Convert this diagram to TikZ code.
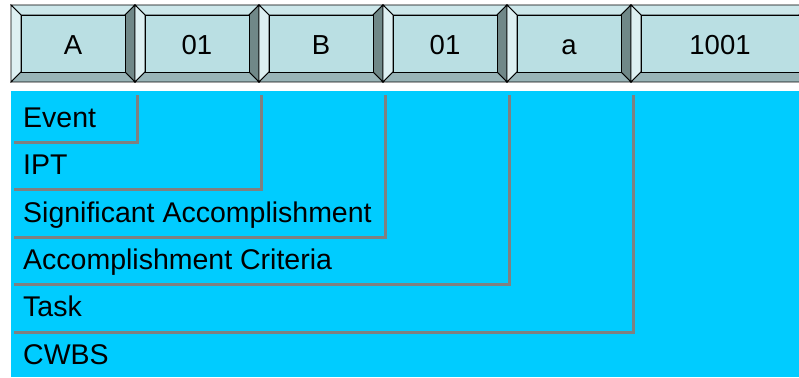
\documentclass[tikz,border=0pt]{standalone}
\usepackage{fontspec}
\setmainfont{Liberation Sans}
\usetikzlibrary{positioning}
\definecolor{facecolor}{RGB}{186,223,227}
\definecolor{topbevel}{RGB}{204,231,234}
\definecolor{leftbevel}{RGB}{221,240,242}
\definecolor{rightbevel}{RGB}{112,136,136}
\definecolor{bottombevel}{RGB}{153,181,184}
\definecolor{areacolor}{RGB}{0,204,255}
\definecolor{bracketcolor}{RGB}{128,128,128}

\begin{document}
\begin{tikzpicture}[
    x=1pt, y=-1pt,
    bevel/.style={draw=black, line width=0.8pt, line join=miter},
    fieldtext/.style={font=\fontsize{27.5}{32}\selectfont, anchor=base, inner sep=0pt},
    area/.style={fill=areacolor, anchor=north west, inner sep=0pt, minimum width=788pt, minimum height=286pt},
    rowlabel/.style={anchor=north west, minimum height=47pt, inner xsep=9pt, inner ysep=0pt,
        text height=23pt, text depth=6pt, font=\fontsize{28.5}{34}\selectfont},
    bracket/.style={draw=bracketcolor, line width=3pt, line join=miter}
]
\useasboundingbox (0,0) rectangle (799,377);
\clip (0,0) rectangle (799,377);

% Code fields
\foreach \x/\w/\lbl [count=\i] in {11/124/A, 135/124/01, 259/124/B, 383/124/01, 507/124/a, 631/178/1001}{
    \path[bevel, fill=topbevel] (\x,5) -- (\x+\w,5) -- (\x+\w-10,15) -- (\x+10,15) -- cycle;
    \path[bevel, fill=leftbevel] (\x,5) -- (\x+10,15) -- (\x+10,72) -- (\x,82) -- cycle;
    \path[bevel, fill=rightbevel] (\x+\w,5) -- (\x+\w,82) -- (\x+\w-10,72) -- (\x+\w-10,15) -- cycle;
    \path[bevel, fill=bottombevel] (\x,82) -- (\x+\w,82) -- (\x+\w-10,72) -- (\x+10,72) -- cycle;
    \path[bevel, fill=facecolor] (\x+10,15) rectangle (\x+\w-10,72);
    \node[fieldtext] (f\i) at (\x+\w/2,55) {\lbl};
    \coordinate (tick\i) at (\x+\w+2,95);
}

% Legend area
\node[area] (legend) at (11,91) {};

% Rows
\node[rowlabel] (row1) at ([xshift=3pt, yshift=-4pt]legend.north west) {Event};
\node[rowlabel] (row2) at (row1.south west) {IPT};
\node[rowlabel] (row3) at (row2.south west) {Significant Accomplishment};
\node[rowlabel] (row4) at (row3.south west) {Accomplishment Criteria};
\node[rowlabel] (row5) at (row4.south west) {Task};
\node[rowlabel] (row6) at (row5.south west) {CWBS};

% Brackets up to the fields
\foreach \i in {1,...,5}
    \draw[bracket] (row\i.south west) -| (tick\i);

\end{tikzpicture}
\end{document}
